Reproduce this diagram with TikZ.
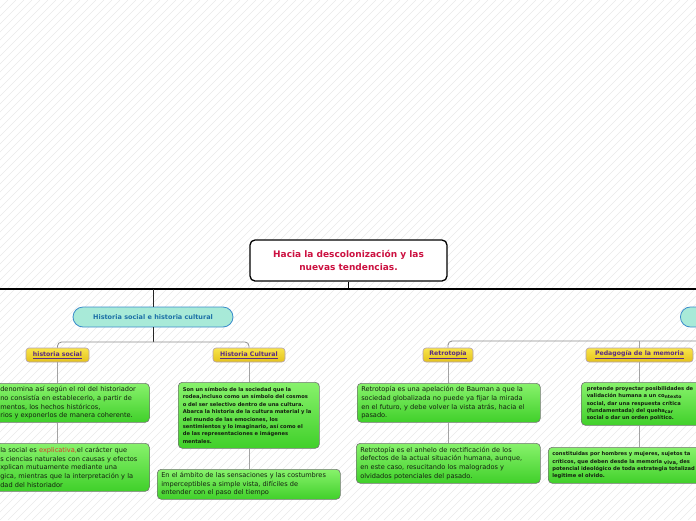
\documentclass[tikz,border=0pt]{standalone}
\usepackage{fontspec}
\setmainfont{DejaVu Sans}
\definecolor{titlered}{HTML}{CC1040}
\definecolor{tealfill}{HTML}{A8EAD8}
\definecolor{tealdraw}{HTML}{3A8CCB}
\definecolor{tealtext}{HTML}{1C6FA6}
\definecolor{yeltop}{HTML}{F8E44A}
\definecolor{yelbot}{HTML}{E4C21C}
\definecolor{yeldraw}{HTML}{B4A0B4}
\definecolor{yeltext}{HTML}{5B2C83}
\definecolor{leaftop}{HTML}{88F26C}
\definecolor{leafbot}{HTML}{40D02A}
\definecolor{leafdraw}{HTML}{747474}
\definecolor{leaftext}{HTML}{142010}
\definecolor{redword}{HTML}{D83A2A}
\definecolor{hatch}{HTML}{EAEAEA}
\definecolor{branchgray}{HTML}{8C8C8C}
\tikzset{
  titlebox/.style={draw=black, line width=1.3pt, rounded corners=5pt, fill=white,
    minimum width=197pt, minimum height=41pt, align=center, text=titlered,
    font=\bfseries\fontsize{9}{12.3}\selectfont, inner sep=2pt},
  topicbox/.style={draw=tealdraw, line width=0.8pt, rounded corners=10pt, fill=tealfill,
    minimum width=160pt, minimum height=20pt, text=tealtext, inner sep=1pt,
    font=\bfseries\fontsize{6.5}{7}\selectfont},
  subbox/.style={draw=yeldraw, line width=0.6pt, rounded corners=3pt, top color=yeltop,
    bottom color=yelbot, minimum height=14pt, text=yeltext, inner sep=1pt,
    font=\bfseries\fontsize{6.2}{7}\selectfont},
  leafbox/.style={draw=leafdraw, line width=0.6pt, rounded corners=4pt, top color=leaftop,
    bottom color=leafbot, anchor=north west, align=left, inner xsep=4pt, inner ysep=2pt,
    text=leaftext, font=\fontsize{6.6}{8.6}\selectfont},
  smallleaf/.style={leafbox, font=\bfseries\fontsize{5.2}{7.35}\selectfont},
  mainline/.style={draw=black, line width=1.3pt},
  stemline/.style={draw=black!85, line width=0.9pt},
  branchline/.style={draw=branchgray, line width=0.8pt, rounded corners=4pt},
  leafline/.style={draw=branchgray!80, line width=0.8pt},
}
\begin{document}
\begin{tikzpicture}[x=1pt,y=-1pt]
\useasboundingbox (0,0) rectangle (696,520);
\clip (0,0) rectangle (696,520);
\fill[white] (0,0) rectangle (696,520);
\foreach \i in {-66,...,88} \draw[hatch, line width=0.5pt] (\i*8,520) -- (\i*8+520,0);

% nodes
\node[titlebox] (root) at (348.5,260.5) {Hacia la descolonización y las\\nuevas tendencias.};
\node[topicbox] (hsc) at (153,317) {Historia social e historia cultural};
\node[topicbox, anchor=west] (rtopic) at (680,317) {};

\node[subbox, minimum width=63pt] (hs) at (57.5,355) {\underline{historia social}};
\node[subbox, minimum width=72pt] (hc) at (249,355) {\underline{Historia Cultural}};
\node[subbox, minimum width=50pt] (rt) at (448,355) {\underline{Retrotopía}};
\node[subbox, minimum width=107pt] (pm) at (639.5,355) {\underline{Pedagogía de la memoria}};

\node[leafbox, text width=145pt, minimum height=39pt] (b1) at (-4,383)
 {denomina así según el rol del historiador\\no consistía en establecerlo, a partir de\\mentos, los hechos históricos,\\rios y exponerlos de manera coherente.};
\node[leafbox, text width=145pt, minimum height=48pt] (b2) at (-4,443)
 {la social es \textcolor{redword}{explicativa,}el carácter que\\s ciencias naturales con causas y efectos\\xplican mutuamente mediante una\\gica, mientras que la interpretación y la\\dad del historiador};
\node[smallleaf, inner xsep=4.5pt, text width=132pt, minimum height=66pt] (b3) at (178,382)
 {Son un símbolo de la sociedad que la\\rodea,incluso como un símbolo del cosmos\\o del ser selectivo dentro de una cultura.\\Abarca la historia de la cultura material y la\\del mundo de las emociones, los\\sentimientos y lo imaginario, así como el\\de las representaciones e imágenes\\mentales.};
\node[leafbox, text width=175pt, minimum height=30pt] (b4) at (157,469)
 {En el ámbito de las sensaciones y las costumbres\\imperceptibles a simple vista, difíciles de\\entender con el paso del tiempo};
\node[leafbox, text width=175pt, minimum height=39pt] (b5) at (357,383)
 {Retrotopía es una apelación de Bauman a que la\\sociedad globalizada no puede ya fijar la mirada\\en el futuro, y debe volver la vista atrás, hacia el\\pasado.};
\node[leafbox, text width=176pt, minimum height=40pt] (b6) at (356,443)
 {Retrotopía es el anhelo de rectificación de los\\defectos de la actual situación humana, aunque,\\en este caso, resucitando los malogrados y\\olvidados potenciales del pasado.};
\node[smallleaf, inner xsep=5.5pt, text width=119pt, minimum height=43pt] (b7) at (581,382)
 {pretende proyectar posibilidades de\\validación humana a un co\raisebox{-0.9pt}{\fontsize{4.6}{5}\selectfont ntexto}\\social, dar una respuesta crítica\\(fundamentada) del queha\raisebox{-0.9pt}{\fontsize{4.6}{5}\selectfont car}\\social o dar un orden político.};
\node[smallleaf, text width=212pt, minimum height=36pt] (b8) at (548,447)
 {constituidas por hombres y mujeres, sujetos ta\\críticos, que deben desde la memoria \raisebox{-1pt}{viva,} des\\potencial ideológico de toda estrategia totalizad\\legitime el olvido.};

% connectors
\coordinate (L) at (0,289);
\coordinate (R) at (696,289);
\coordinate (jroot) at (348.5,289);
\coordinate (jh) at (153,289);
\coordinate (bh) at (153,342);
\coordinate (br) at (696,341);
\coordinate (bp) at (639.5,341);
\draw[mainline] (L) -- (R);
\draw[mainline] (root.south) -- (jroot);
\draw[stemline] (jh) -- (hsc.north);
\draw[stemline] (hsc.south) -- (bh);
\draw[branchline] (hs.north) |- (bh) -| (hc.north);
\draw[branchline] (rt.north) |- (br);
\draw[leafline] (pm.north) -- (bp);

\draw[leafline] (hs.south) -- (hs.south |- b1.north);
\draw[leafline] (hs.south |- b1.south) -- (hs.south |- b2.north);
\draw[leafline] (hc.south) -- (hc.south |- b3.north);
\draw[leafline] (hc.south |- b3.south) -- (hc.south |- b4.north);
\draw[leafline] (rt.south) -- (rt.south |- b5.north);
\draw[leafline] (rt.south |- b5.south) -- (rt.south |- b6.north);
\draw[leafline] (pm.south) -- (pm.south |- b7.north);
\draw[leafline] (pm.south |- b7.south) -- (pm.south |- b8.north);
\end{tikzpicture}
\end{document}
